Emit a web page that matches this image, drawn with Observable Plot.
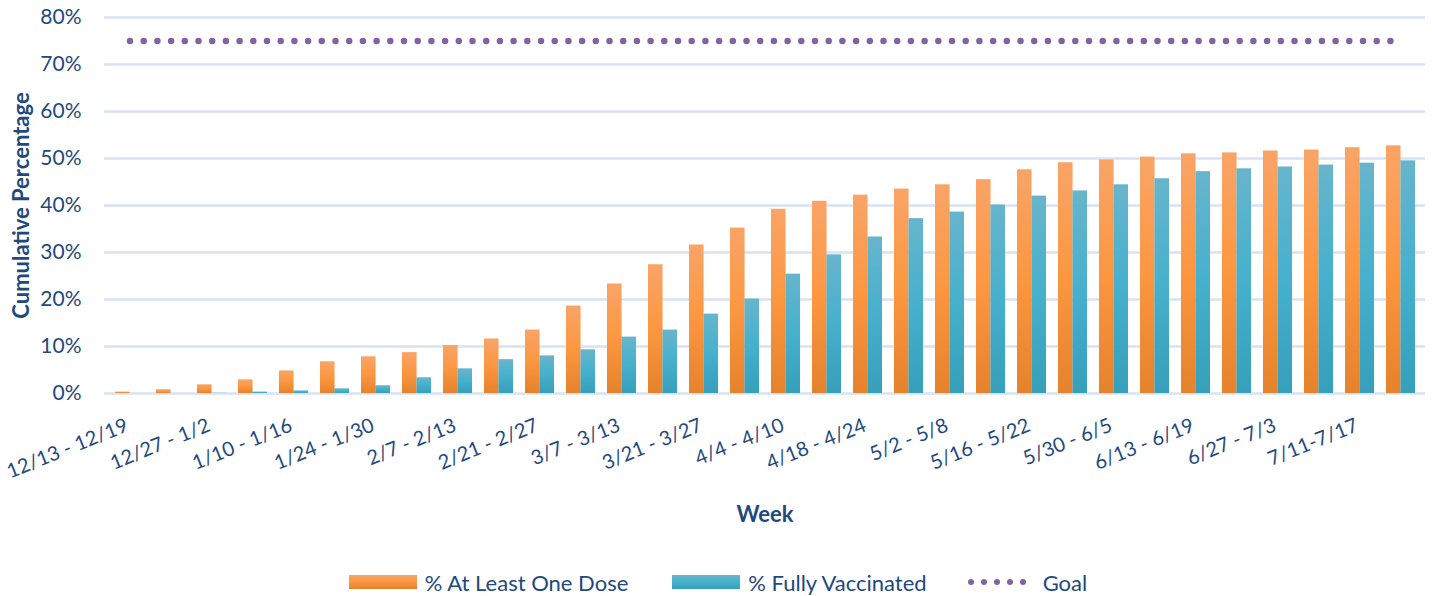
<!DOCTYPE html>
<html>
<head>
<meta charset="utf-8">
<script src="https://cdn.jsdelivr.net/npm/d3@7"></script>
<script src="https://cdn.jsdelivr.net/npm/@observablehq/plot@0.6"></script>
<style>
  html, body { margin: 0; padding: 0; background: #fff; }
  body { width: 1432px; height: 596px; overflow: hidden; font-family: Lato, "Open Sans", sans-serif; }
  #legend { display: flex; justify-content: center; align-items: center; height: 74px; font-size: 22px; color: #1f497d; padding-left: 4px; }
  .item { display: flex; align-items: center; }
  .sw { width: 68px; height: 14px; margin-right: 8px; }
  .dots { display: flex; gap: 7px; margin-right: 17px; }
  .dots span { width: 6px; height: 6px; border-radius: 50%; background: #8064a2; display: block; }
</style>
</head>
<body>
<div id="chart"></div>
<div id="legend"></div>
<script>
const weeks = ["12/13 - 12/19", "12/20 - 12/26", "12/27 - 1/2", "1/3 - 1/9", "1/10 - 1/16", "1/17 - 1/23",
  "1/24 - 1/30", "1/31 - 2/6", "2/7 - 2/13", "2/14 - 2/20", "2/21 - 2/27", "2/28 - 3/6", "3/7 - 3/13",
  "3/14 - 3/20", "3/21 - 3/27", "3/28 - 4/3", "4/4 - 4/10", "4/11 - 4/17", "4/18 - 4/24", "4/25 - 5/1",
  "5/2 - 5/8", "5/9 - 5/15", "5/16 - 5/22", "5/23 - 5/29", "5/30 - 6/5", "6/6 - 6/12", "6/13 - 6/19",
  "6/20 - 6/26", "6/27 - 7/3", "7/4 - 7/10", "7/11-7/17", "7/18 - 7/24"];
const labeledWeeks = ["12/13 - 12/19", "12/27 - 1/2", "1/10 - 1/16", "1/24 - 1/30", "2/7 - 2/13", "2/21 - 2/27",
  "3/7 - 3/13", "3/21 - 3/27", "4/4 - 4/10", "4/18 - 4/24", "5/2 - 5/8", "5/16 - 5/22", "5/30 - 6/5",
  "6/13 - 6/19", "6/27 - 7/3", "7/11-7/17"];
const atLeastOneDose = [0.3, 0.8, 1.85, 2.9, 4.8, 6.75, 7.8, 8.7, 10.2, 11.6, 13.5, 18.6, 23.3, 27.4, 31.6, 35.2,
  39.2, 40.9, 42.2, 43.5, 44.4, 45.5, 47.6, 49.1, 49.7, 50.3, 51.0, 51.2, 51.6, 51.8, 52.3, 52.7];
const fullyVaccinated = [0.0, 0.0, 0.05, 0.3, 0.55, 1.0, 1.65, 3.35, 5.25, 7.2, 8.0, 9.3, 12.0, 13.5, 16.9, 20.1,
  25.4, 29.5, 33.3, 37.2, 38.6, 40.1, 42.0, 43.1, 44.4, 45.7, 47.2, 47.8, 48.2, 48.6, 49.0, 49.5];
const goalValue = 75;
const yTicks = [0, 10, 20, 30, 40, 50, 60, 70, 80];
const seriesNames = ["% At Least One Dose", "% Fully Vaccinated", "Goal"];

const rows = weeks.map((w, i) => ({week: w, one: atLeastOneDose[i], full: fullyVaccinated[i], goal: goalValue}));

const W = 1432, H = 545, mL = 104, mR = 7, mT = 17, mB = 152;
const step = (W - mL - mR) / weeks.length;
const half = step * 0.7 / 2;
const textColor = "#1f497d";

const svg = Plot.plot({
  width: W, height: H,
  marginLeft: mL, marginRight: mR, marginTop: mT, marginBottom: mB,
  style: {fontFamily: "Lato, 'Open Sans', sans-serif", color: textColor, background: "#fff"},
  x: {type: "band", domain: weeks, paddingInner: 0.3, paddingOuter: 0.15},
  y: {domain: [0, 80]},
  marks: [
    Plot.gridY(yTicks, {stroke: "#d9e2f3", strokeOpacity: 1, strokeWidth: 2.5}),
    Plot.barY(rows, {x: "week", y: "one", fill: "url(#gOrange)", insetRight: half}),
    Plot.barY(rows, {x: "week", y: "full", fill: "url(#gTeal)", insetLeft: half}),
    Plot.lineY(rows, {x: "week", y: "goal", stroke: "#8064a2", strokeWidth: 6.5, strokeDasharray: "0 13.7", strokeLinecap: "round"}),
    Plot.axisY({ticks: yTicks, tickFormat: d => d + "%", tickSize: 0, tickPadding: 23, fontSize: 21,
      label: "Cumulative Percentage", labelAnchor: "center", labelArrow: "none", labelOffset: 91}),
    Plot.axisX({ticks: labeledWeeks, tickSize: 0, tickRotate: -22, tickPadding: 31, fontSize: 20, dx: -3,
      label: "Week", labelAnchor: "center", labelArrow: "none", labelOffset: 128})
  ]
});

const defs = d3.select(svg).insert("defs", ":first-child");
function grad(id, stops) {
  const g = defs.append("linearGradient").attr("id", id).attr("x1", 0).attr("y1", 0).attr("x2", 0).attr("y2", 1);
  stops.forEach(([o, c]) => g.append("stop").attr("offset", o).attr("stop-color", c));
}
grad("gOrange", [[0, "#f9a467"], [0.5, "#fc9740"], [1, "#e5822c"]]);
grad("gTeal", [[0, "#67b5cc"], [0.5, "#46b0cd"], [1, "#369fba"]]);

// bold axis titles
d3.select(svg).selectAll("[aria-label='y-axis label'] text, [aria-label='x-axis label'] text")
  .attr("font-weight", "bold").attr("font-size", 22);

document.getElementById("chart").appendChild(svg);

const legend = d3.select("#legend");
const i1 = legend.append("div").attr("class", "item").style("margin-right", "44px");
i1.append("div").attr("class", "sw").style("background", "linear-gradient(#f9a467, #fc9740, #e5822c)");
i1.append("span").text(seriesNames[0]);
const i2 = legend.append("div").attr("class", "item").style("margin-right", "41px");
i2.append("div").attr("class", "sw").style("background", "linear-gradient(#67b5cc, #46b0cd, #369fba)");
i2.append("span").text(seriesNames[1]);
const i3 = legend.append("div").attr("class", "item");
const dots = i3.append("div").attr("class", "dots");
for (let k = 0; k < 5; k++) dots.append("span");
i3.append("span").text(seriesNames[2]);
</script>
</body>
</html>
